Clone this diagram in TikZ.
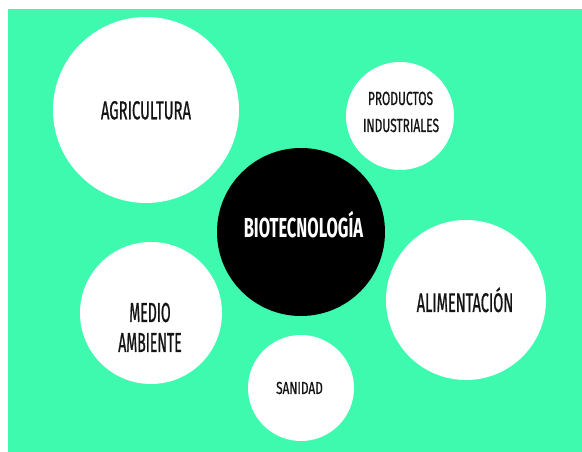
\documentclass[tikz,border=0pt]{standalone}
\usepackage{fontspec}
\setmainfont{Fira Sans}
\definecolor{bggreen}{HTML}{3EFAAF}
\definecolor{txt}{HTML}{141414}
\tikzset{
  bubble/.style={circle, fill=white, inner sep=0pt},
  core/.style={circle, fill=black, inner sep=0pt},
  lbl/.style={anchor=base, inner sep=0pt, text=txt},
}
\newcommand{\cond}[2]{\addfontfeature{FakeStretch=#1,FakeBold=0.7}\fontsize{#2}{#2}\selectfont}
\newcommand{\condb}[2]{\addfontfeature{FakeStretch=#1}\fontsize{#2}{#2}\selectfont}
\begin{document}
\begin{tikzpicture}[x=1pt,y=1pt]
\useasboundingbox (0,0) rectangle (582,452);
\fill[bggreen] (8,0) rectangle (582,443);
\node[bubble, minimum size=186pt] (agri) at (146,342) {};
\node[bubble, minimum size=108pt] (prod) at (400,336) {};
\node[core, minimum size=168pt] (bio) at (301,220) {};
\node[bubble, minimum size=142pt] (medio) at (151,139) {};
\node[bubble, minimum size=160pt] (alim) at (466,152) {};
\node[bubble, minimum size=106pt] (san) at (301,64) {};
\node[lbl, font=\cond{0.57}{26}] (tagri) at (146,332.7) {AGRICULTURA};
\node[lbl, font=\cond{0.63}{19}] (tprod1) at (400.5,347) {PRODUCTOS};
\node[lbl, font=\cond{0.63}{19}] (tprod2) at (401,320) {INDUSTRIALES};
\node[lbl, text=white, font=\bfseries\condb{0.60}{27.5}] (tbio) at (303.5,214) {BIOTECNOLOGÍA};
\node[lbl, font=\cond{0.51}{27.5}] (tmedio1) at (150,130) {MEDIO};
\node[lbl, font=\cond{0.51}{27.5}] (tmedio2) at (150,100) {AMBIENTE};
\node[lbl, font=\cond{0.54}{27}] (talim) at (465,140) {ALIMENTACIÓN};
\node[lbl, font=\cond{0.68}{17.4}] (tsan) at (299.5,58) {SANIDAD};
\end{tikzpicture}
\end{document}
